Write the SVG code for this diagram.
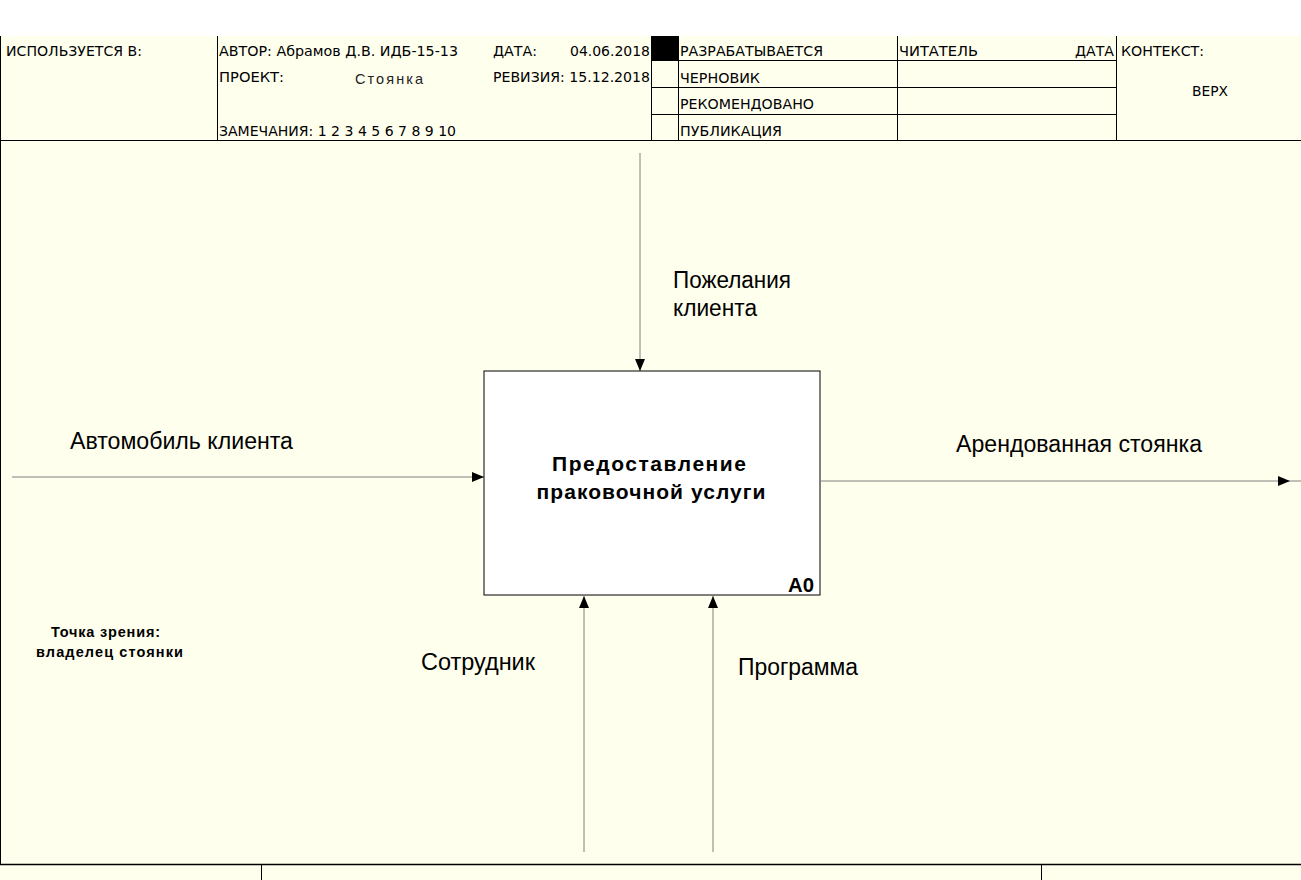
<svg xmlns="http://www.w3.org/2000/svg" width="1301" height="880" viewBox="0 0 1301 880">
<defs>
<style>
.hdr{font-family:"DejaVu Sans Condensed","DejaVu Sans","Liberation Sans",sans-serif;font-size:13.5px;fill:#000}
.ln{stroke:#000;stroke-width:1;fill:none}
.con{stroke:#808080;stroke-width:1;fill:none}
.lbl{font-family:"Liberation Sans",Arial,sans-serif;font-size:23px;fill:#000}
.ttl{font-family:"Liberation Sans",Arial,sans-serif;font-size:21px;font-weight:bold;fill:#000;text-anchor:middle}
.vp{font-family:"Liberation Sans",Arial,sans-serif;font-size:14.5px;font-weight:bold;fill:#000}
</style>
<marker id="ah" viewBox="0 0 12 10" refX="12" refY="5" markerWidth="12" markerHeight="10" markerUnits="userSpaceOnUse" orient="auto">
<path d="M0,0 L12,5 L0,10 Z" fill="#000"/>
</marker>
</defs>
<rect x="0" y="0" width="1301" height="880" fill="#ffffff"/>
<rect x="0" y="36" width="1301" height="844" fill="#ffffee"/>
<g id="frame">
<line class="ln" x1="0.5" y1="36" x2="0.5" y2="864"/>
<line class="ln" x1="0" y1="140.5" x2="1301" y2="140.5"/>
<line class="ln" x1="217.5" y1="36" x2="217.5" y2="140"/>
<line class="ln" x1="651.5" y1="36" x2="651.5" y2="140"/>
<line class="ln" x1="678.5" y1="36" x2="678.5" y2="140"/>
<line class="ln" x1="897.5" y1="36" x2="897.5" y2="140"/>
<line class="ln" x1="1116.5" y1="36" x2="1116.5" y2="140"/>
<line class="ln" x1="651" y1="60.5" x2="1116" y2="60.5"/>
<line class="ln" x1="651" y1="87.5" x2="1116" y2="87.5"/>
<line class="ln" x1="651" y1="114.5" x2="1116" y2="114.5"/>
<rect x="651" y="36" width="27" height="24" fill="#000"/>
<line x1="0" y1="864.5" x2="1301" y2="864.5" stroke="#000" stroke-width="1.5"/>
<line class="ln" x1="261.5" y1="864" x2="261.5" y2="880"/>
<line class="ln" x1="1041.5" y1="864" x2="1041.5" y2="880"/>
</g>
<g id="header-text">
<text class="hdr" x="6" y="56" textLength="136" lengthAdjust="spacingAndGlyphs">ИСПОЛЬЗУЕТСЯ В:</text>
<text class="hdr" x="219" y="56" textLength="239" lengthAdjust="spacingAndGlyphs">АВТОР: Абрамов Д.В. ИДБ-15-13</text>
<text class="hdr" x="493" y="56" textLength="44" lengthAdjust="spacingAndGlyphs">ДАТА:</text>
<text class="hdr" x="570" y="56" textLength="80" lengthAdjust="spacingAndGlyphs">04.06.2018</text>
<text class="hdr" x="219" y="82" textLength="65" lengthAdjust="spacingAndGlyphs">ПРОЕКТ:</text>
<text x="355" y="84" font-family="Liberation Sans,Arial,sans-serif" font-size="14.5" fill="#222" textLength="68" lengthAdjust="spacing">Стоянка</text>
<text class="hdr" x="493" y="82" textLength="157" lengthAdjust="spacingAndGlyphs">РЕВИЗИЯ: 15.12.2018</text>
<text class="hdr" x="219" y="136" textLength="237" lengthAdjust="spacingAndGlyphs">ЗАМЕЧАНИЯ: 1 2 3 4 5 6 7 8 9 10</text>
<text class="hdr" x="680" y="56" textLength="143" lengthAdjust="spacingAndGlyphs">РАЗРАБАТЫВАЕТСЯ</text>
<text class="hdr" x="680" y="83" textLength="80" lengthAdjust="spacingAndGlyphs">ЧЕРНОВИК</text>
<text class="hdr" x="680" y="109" textLength="134" lengthAdjust="spacingAndGlyphs">РЕКОМЕНДОВАНО</text>
<text class="hdr" x="680" y="136" textLength="102" lengthAdjust="spacingAndGlyphs">ПУБЛИКАЦИЯ</text>
<text class="hdr" x="899" y="56" textLength="79" lengthAdjust="spacingAndGlyphs">ЧИТАТЕЛЬ</text>
<text class="hdr" x="1075" y="56" textLength="39" lengthAdjust="spacingAndGlyphs">ДАТА</text>
<text class="hdr" x="1121" y="56" textLength="83" lengthAdjust="spacingAndGlyphs">КОНТЕКСТ:</text>
<text class="hdr" x="1192" y="96" textLength="36" lengthAdjust="spacingAndGlyphs">ВЕРХ</text>
</g>
<g id="connectors">
<path class="con" d="M12,477 H484" marker-end="url(#ah)"/>
<path class="con" d="M821,481 L1290,481 L1301,481" marker-mid="url(#ah)"/>
<path class="con" d="M640,153 V371" marker-end="url(#ah)"/>
<path class="con" d="M584,852 V596" marker-end="url(#ah)"/>
<path class="con" d="M713,852 V596" marker-end="url(#ah)"/>
</g>
<g id="A0">
<rect x="484" y="371" width="336" height="224" fill="#ffffff" stroke="#000" stroke-width="1"/>
<text class="ttl" x="649" y="471" textLength="194" lengthAdjust="spacing">Предоставление</text>
<text class="ttl" x="651" y="499" textLength="229" lengthAdjust="spacing">праковочной услуги</text>
<text x="788" y="592" font-family="Liberation Sans,Arial,sans-serif" font-size="21" font-weight="bold" textLength="26" lengthAdjust="spacingAndGlyphs">A0</text>
</g>
<g id="labels">
<text class="lbl" x="673" y="288" textLength="118" lengthAdjust="spacingAndGlyphs">Пожелания</text>
<text class="lbl" x="673" y="316" textLength="84" lengthAdjust="spacingAndGlyphs">клиента</text>
<text class="lbl" x="70" y="449" textLength="223" lengthAdjust="spacingAndGlyphs">Автомобиль клиента</text>
<text class="lbl" x="956" y="452" textLength="246" lengthAdjust="spacingAndGlyphs">Арендованная стоянка</text>
<text class="lbl" x="421" y="670" textLength="114" lengthAdjust="spacingAndGlyphs">Сотрудник</text>
<text class="lbl" x="738" y="675" textLength="120" lengthAdjust="spacingAndGlyphs">Программа</text>
</g>
<g id="viewpoint">
<text class="vp" x="51" y="637" textLength="109" lengthAdjust="spacing">Точка зрения:</text>
<text class="vp" x="36" y="657" textLength="147" lengthAdjust="spacing">владелец стоянки</text>
</g>
</svg>
